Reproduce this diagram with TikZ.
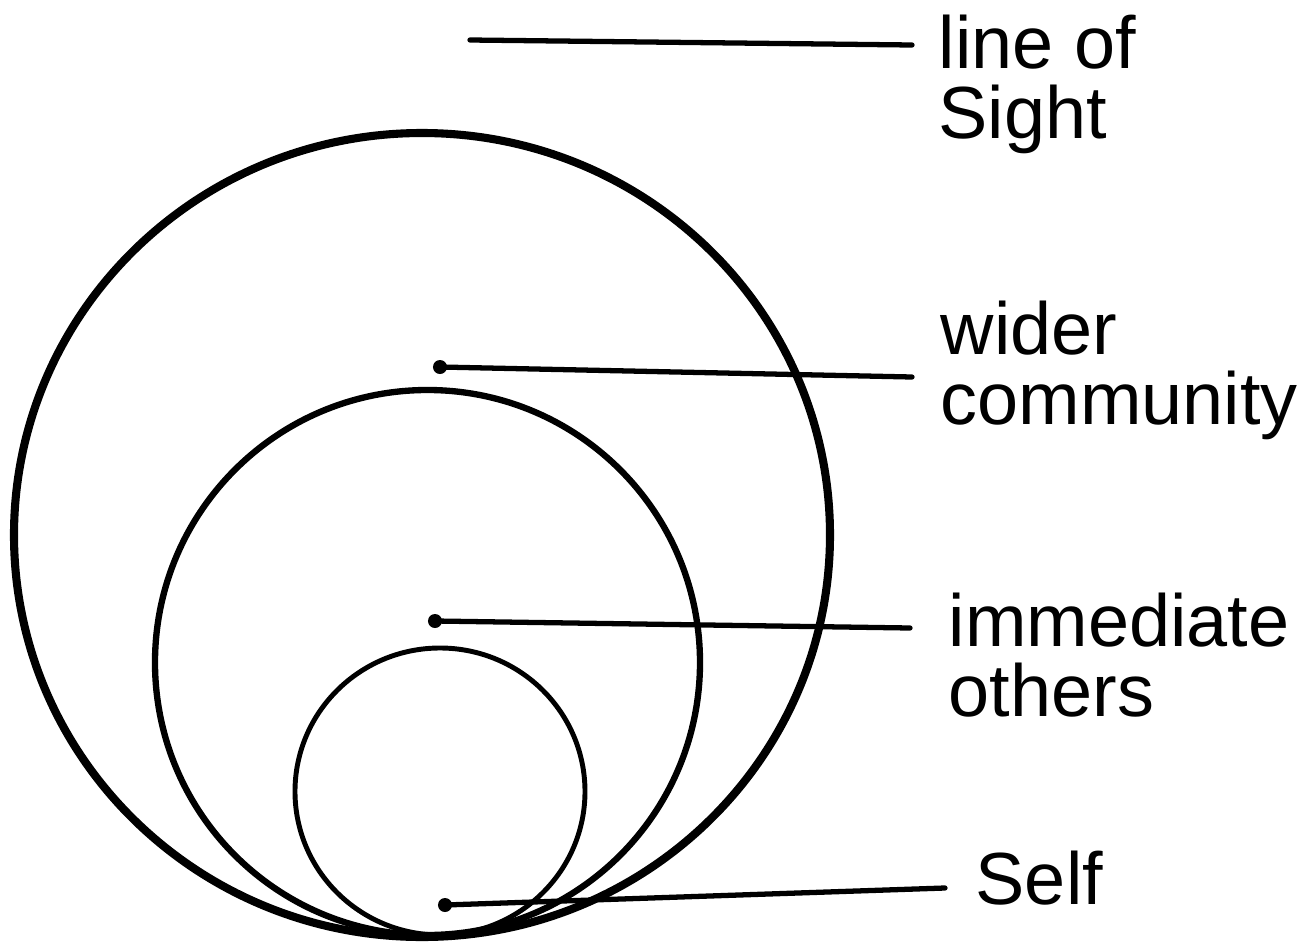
\documentclass[tikz,border=0pt]{standalone}
\usepackage{fontspec}
\setmainfont{Liberation Sans}
\usetikzlibrary{calc}

\begin{document}
\begin{tikzpicture}[
  x=0.01cm, y=-0.01cm,
  ring/.style={draw, line width=#1},
  leader/.style={draw, line width=1.5pt, line cap=round},
  dotnode/.style={circle, fill=black, inner sep=0pt, minimum size=0.14cm},
  labelnode/.style={anchor=north west, inner sep=0pt, align=left, font=\fontsize{21}{20}\selectfont}
]
\useasboundingbox (0,0) rectangle (1311,942);

% Draw nested circles
\draw[ring=2.3pt] (422,535) ellipse [x radius=408, y radius=402];
\draw[ring=1.8pt] (427.5,662.5) ellipse [x radius=272.5, y radius=272.5];
\draw[ring=1.4pt] (440,791.5) ellipse [x radius=145, y radius=143.5];

% Draw dots and start point
\coordinate (losstart) at (470,40);
\node[dotnode] (wcdot) at (440,367) {};
\node[dotnode] (iodot) at (435,621) {};
\node[dotnode] (selfdot) at (445,905) {};

% Labels
\node[labelnode] (los) at (938,14) {line of\\Sight};
\node[labelnode] (wc) at (940,300) {wider\\community};
\node[labelnode] (io) at (948,592) {immediate\\others};
\node[labelnode] (self) at (975,850) {Self};

% Leader lines
\draw[leader] (losstart) -- ($(los.north west)+(-26,31)$);
\draw[leader] (wcdot.center) -- ($(wc.north west)+(-28,77)$);
\draw[leader] (iodot.center) -- ($(io.north west)+(-38,36)$);
\draw[leader] (selfdot.center) -- ($(self.north west)+(-30,38)$);
\end{tikzpicture}
\end{document}
